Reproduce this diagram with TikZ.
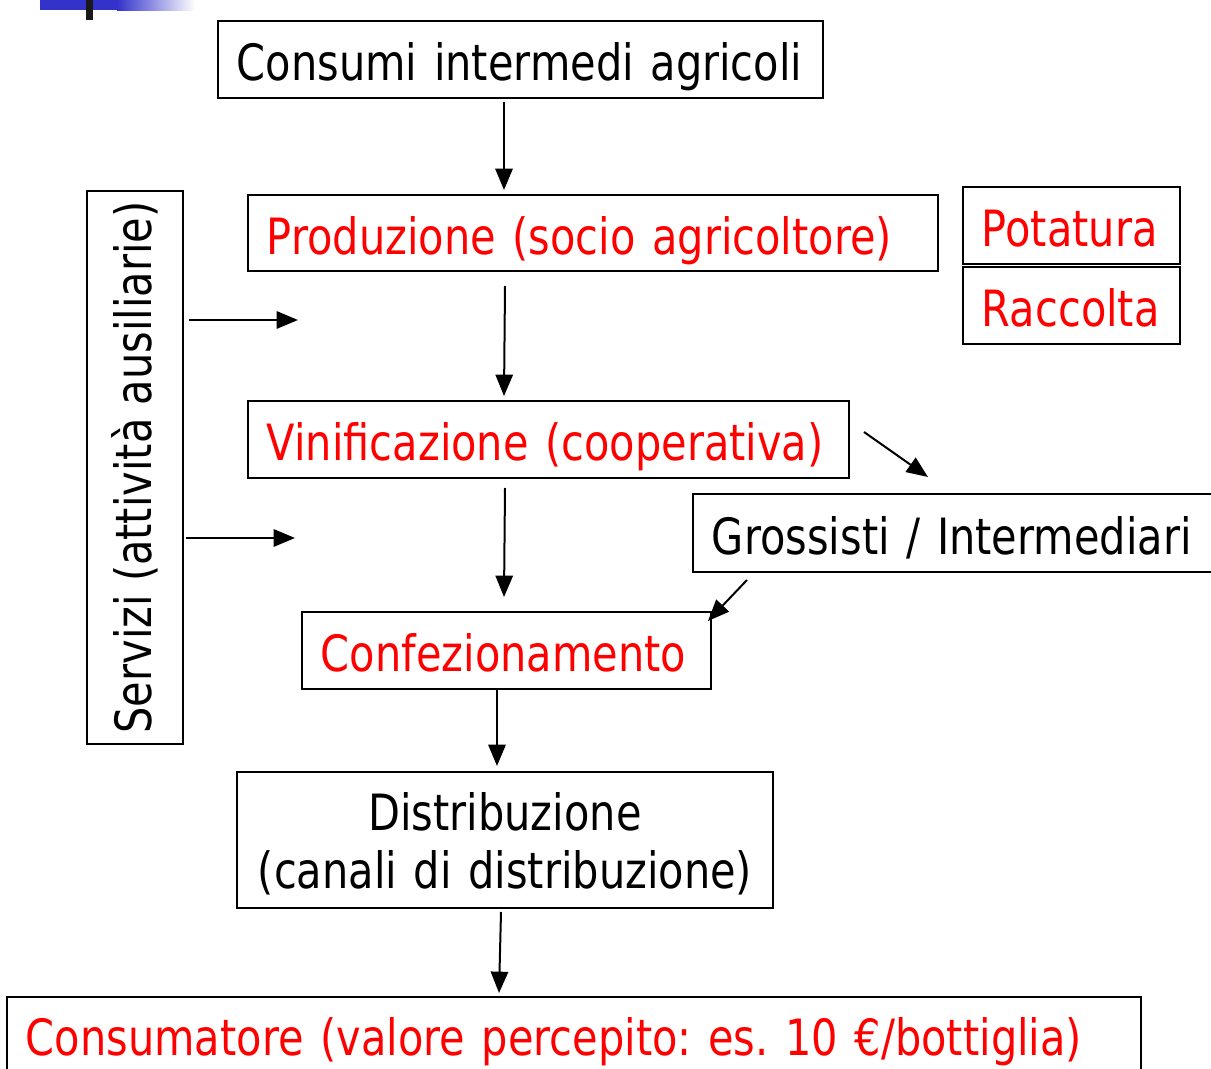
\documentclass[tikz,border=0pt]{standalone}
\usepackage{fontspec}
\setmainfont{DejaVu Sans}[FakeStretch=0.83]
\usetikzlibrary{arrows.meta}
\definecolor{tred}{RGB}{255,0,0}
\definecolor{tblue}{RGB}{51,51,204}
\begin{document}
\frenchspacing
\begin{tikzpicture}[x=0.75pt,y=-0.75pt,
  box/.style={draw, line width=1.4pt, inner xsep=14.25pt, inner ysep=0pt, align=left, anchor=north west,
    font=\fontsize{37.5pt}{43.5pt}\selectfont\frenchspacing},
  oneline/.style={text height=36pt, text depth=3.75pt},
  redtext/.style={text=tred},
  arr/.style={line width=1.5pt, -{Triangle[length=16pt,width=13pt]}}]
\useasboundingbox (0,0) rectangle (1211,1069);
% top-left decoration
\fill[tblue] (40,0) rectangle (117,10);
\shade[left color=tblue, right color=white] (117,0) rectangle (195,11);
\fill[black!90] (86,0) rectangle (93,20);
% nodes
\node[box, oneline, text width=425.25pt, minimum height=57.75pt] (cons) at (217,20) {Consumi intermedi agricoli};
\node[box, oneline, redtext, text width=489pt, minimum height=57pt] (prod) at (247,194) {Produzione (socio agricoltore)};
\node[box, oneline, redtext, text width=134.25pt, minimum height=57.75pt] (pot) at (962,186) {Potatura};
\node[box, oneline, redtext, text width=134.25pt, minimum height=57.75pt] (rac) at (962,266) {Raccolta};
\node[draw, line width=1.4pt, rotate=90, inner sep=0pt, minimum width=414.75pt, minimum height=72pt,
  font=\fontsize{37.5pt}{43.5pt}\selectfont] (serv) at (135,467.5) {Servizi (attività ausiliarie)};
\node[box, oneline, redtext, text width=422.25pt, minimum height=57.75pt] (vin) at (247,400) {Vinificazione (cooperativa)};
\node[box, oneline, text width=369pt, minimum height=58.5pt] (gros) at (692,493) {Grossisti / Intermediari};
\node[box, oneline, redtext, text width=278.25pt, minimum height=57.75pt] (conf) at (301,611) {Confezionamento};
\node[box, align=center, text width=373.5pt, minimum height=102pt] (dist) at (236,771) {\rule{0pt}{34.5pt}Distribuzione\hspace*{10pt}\\(canali di distribuzione)};
\node[box, oneline, redtext, text width=822pt, minimum height=56pt] (consu) at (6,996) {Consumatore (valore percepito: es. 10 €/bottiglia)};
% connector end points
\coordinate (a1a) at (504,102); \coordinate (a1b) at (504,190);
\coordinate (a2a) at (505,286); \coordinate (a2b) at (504,396);
\coordinate (a3a) at (505,488); \coordinate (a3b) at (504,597);
\coordinate (a4a) at (497,689); \coordinate (a4b) at (497,766);
\coordinate (a5a) at (501,912); \coordinate (a5b) at (499,993);
\coordinate (s1a) at (189,320); \coordinate (s1b) at (298,320);
\coordinate (s2a) at (186,538); \coordinate (s2b) at (295,538);
\coordinate (g1a) at (864,432); \coordinate (g1b) at (928,477);
\coordinate (g2a) at (747,580); \coordinate (g2b) at (708,621);
\draw[arr] (a1a) -- (a1b);
\draw[arr] (a2a) -- (a2b);
\draw[arr] (a3a) -- (a3b);
\draw[arr] (a4a) -- (a4b);
\draw[arr] (a5a) -- (a5b);
\draw[arr] (s1a) -- (s1b);
\draw[arr] (s2a) -- (s2b);
\draw[arr] (g1a) -- (g1b);
\draw[arr] (g2a) -- (g2b);
\end{tikzpicture}
\end{document}
